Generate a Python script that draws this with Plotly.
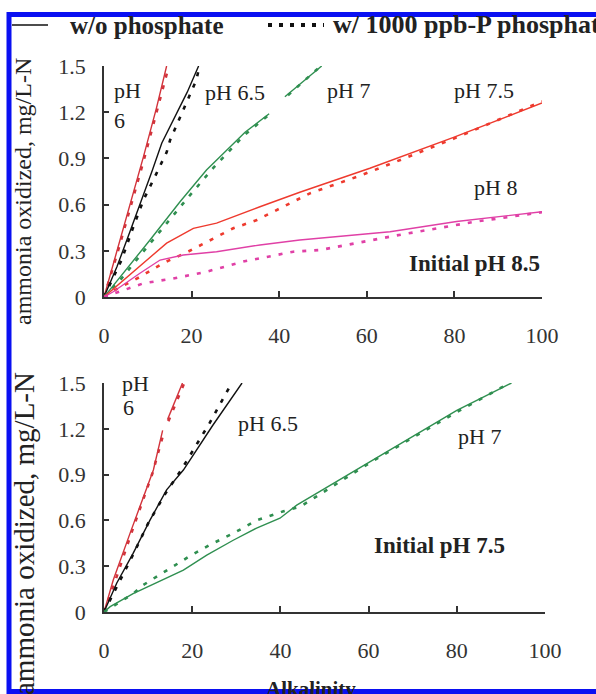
import plotly.graph_objects as go

W, H = 596, 694
def px(x): return x / W
def py(y): return 1 - y / H

FONT = "Liberation Serif"

# ---------------- data: top panel (Initial pH 8.5) ----------------
top_ph6_x = [0, 3, 6, 9, 12, 14.3]
top_ph6_y = [0, 0.30, 0.60, 0.91, 1.23, 1.50]
top_ph6_dot_x = [0, 3, 6, 9, 12, 14.8]
top_ph6_dot_y = [0, 0.28, 0.58, 0.88, 1.20, 1.50]

top_ph65_x = [0, 3, 6, 9, 11, 13.2, 16, 19, 21.6]
top_ph65_y = [0, 0.20, 0.43, 0.66, 0.82, 1.00, 1.16, 1.33, 1.50]
top_ph65_dot_x = [0, 4, 6.7, 9, 11.6, 13.2, 14.3, 15.1, 16.6, 19, 21.1, 21.8]
top_ph65_dot_y = [0, 0.24, 0.456, 0.63, 0.78, 0.87, 0.94, 1.02, 1.12, 1.27, 1.41, 1.50]

top_ph7_x = [0, 3.7, 10.5, 17.4, 23.4, 32.2, 37.7, None, 41.3, 49.7]
top_ph7_y = [0, 0.13, 0.37, 0.62, 0.825, 1.07, 1.19, None, 1.30, 1.50]
top_ph7_dot_x = [0, 3.7, 9.7, 14.3, 19.6, 25, 32, 37.5, None, 42, 49.5]
top_ph7_dot_y = [0, 0.11, 0.32, 0.48, 0.66, 0.84, 1.05, 1.18, None, 1.31, 1.50]

top_ph75_x = [0, 3.7, 9, 14.3, 20.4, 25.7, 35.6, 44.7, 60.7, 79.8, 100]
top_ph75_y = [0, 0.089, 0.22, 0.35, 0.446, 0.48, 0.586, 0.68, 0.836, 1.037, 1.26]
top_ph75_dot_x = [0, 2.5, 8.2, 13.5, 18.9, 24.2, 29.5, 34.9, 40.2, 47, 57.7, 65, 80, 100]
top_ph75_dot_y = [0, 0.045, 0.13, 0.22, 0.29, 0.37, 0.446, 0.50, 0.576, 0.673, 0.78, 0.86, 1.03, 1.27]

top_ph8_x = [0, 2.1, 8.2, 12.8, 18.1, 25.7, 35.6, 44.7, 65.3, 80.5, 100]
top_ph8_y = [0, 0.034, 0.154, 0.24, 0.273, 0.294, 0.338, 0.37, 0.424, 0.49, 0.554]
top_ph8_dot_x = [0, 5.9, 9, 15.8, 23.4, 31.8, 35.6, 43.2, 49.3, 66.8, 85, 100]
top_ph8_dot_y = [0, 0.056, 0.089, 0.12, 0.164, 0.23, 0.25, 0.294, 0.305, 0.40, 0.49, 0.55]

# ---------------- data: bottom panel (Initial pH 7.5) ----------------
bot_ph6_x = [0, 2.1, 5.9, 11.2, 13.3, None, 14.4, 17.8]
bot_ph6_y = [0, 0.21, 0.515, 0.93, 1.19, None, 1.26, 1.50]
bot_ph6_dot_x = [0, 2.5, 6, 11, 13.5, None, 14.6, 18.2]
bot_ph6_dot_y = [0, 0.20, 0.50, 0.91, 1.17, None, 1.25, 1.50]

bot_ph65_x = [0, 2.9, 6.6, 10.4, 14.2, 18, 24.6, 31.3]
bot_ph65_y = [0, 0.19, 0.384, 0.60, 0.80, 0.93, 1.22, 1.50]
bot_ph65_dot_x = [0, 3, 6.5, 10, 14, 17.5, 24, 28.4, 29.5]
bot_ph65_dot_y = [0, 0.17, 0.37, 0.58, 0.78, 0.93, 1.24, 1.47, 1.50]

bot_ph7_x = [0, 1.4, 6.6, 11.9, 18, 23.3, 29.3, 34.6, 39.9, 43.7, 61, 80, 92.4]
bot_ph7_y = [0, 0.035, 0.12, 0.19, 0.275, 0.373, 0.47, 0.55, 0.614, 0.70, 0.995, 1.32, 1.50]
bot_ph7_dot_x = [0, 3.6, 6.6, 8.9, 14.2, 19.1, 24, 29.3, 34.6, 40.7, 44.5, 61, 80, 92]
bot_ph7_dot_y = [0, 0.067, 0.12, 0.177, 0.275, 0.36, 0.44, 0.515, 0.60, 0.66, 0.69, 0.99, 1.31, 1.50]

x_ticks = [0, 20, 40, 60, 80, 100]
y_ticks = [0, 0.3, 0.6, 0.9, 1.2, 1.5]
y_ticktext = ["0", "0.3", "0.6", "0.9", "1.2", "1.5"]

C_RED6 = "#d2333b"
C_BLACK = "#111111"
C_GREEN = "#2f8f50"
C_RED75 = "#ee3a2e"
C_MAG = "#e040a6"
DOT = "4px,8px"

fig = go.Figure()

def add(x, y, color, dotted, xa, ya):
    fig.add_trace(go.Scatter(
        x=x, y=y, mode="lines", xaxis=xa, yaxis=ya, showlegend=False,
        connectgaps=False, hoverinfo="skip",
        line=dict(color=color, width=2.6 if dotted else 1.4,
                  dash=DOT if dotted else "solid")))

top = [
    (top_ph6_x, top_ph6_y, top_ph6_dot_x, top_ph6_dot_y, C_RED6),
    (top_ph65_x, top_ph65_y, top_ph65_dot_x, top_ph65_dot_y, C_BLACK),
    (top_ph7_x, top_ph7_y, top_ph7_dot_x, top_ph7_dot_y, C_GREEN),
    (top_ph75_x, top_ph75_y, top_ph75_dot_x, top_ph75_dot_y, C_RED75),
    (top_ph8_x, top_ph8_y, top_ph8_dot_x, top_ph8_dot_y, C_MAG),
]
for sx, sy, dx, dy, c in top:
    add(sx, sy, c, False, "x", "y")
    add(dx, dy, c, True, "x", "y")

bot = [
    (bot_ph6_x, bot_ph6_y, bot_ph6_dot_x, bot_ph6_dot_y, C_RED6),
    (bot_ph65_x, bot_ph65_y, bot_ph65_dot_x, bot_ph65_dot_y, C_BLACK),
    (bot_ph7_x, bot_ph7_y, bot_ph7_dot_x, bot_ph7_dot_y, C_GREEN),
]
for sx, sy, dx, dy, c in bot:
    add(sx, sy, c, False, "x2", "y2")
    add(dx, dy, c, True, "x2", "y2")

tickfont = dict(family=FONT, size=22, color="#333")
common_x = dict(range=[0, 100], tickvals=x_ticks, ticks="inside", ticklen=6,
                tickcolor="#333", tickwidth=1.5, showline=True, linecolor="#333",
                linewidth=1.6, showgrid=False, zeroline=False, tickfont=tickfont,
                ticklabelstandoff=18, fixedrange=True, automargin=False)
common_y = dict(range=[0, 1.5], tickvals=y_ticks, ticktext=y_ticktext, ticks="inside",
                ticklen=5, tickcolor="#333", tickwidth=1.5, showline=True,
                linecolor="#333", linewidth=1.6, showgrid=False, zeroline=False,
                tickfont=tickfont, ticklabelstandoff=12, fixedrange=True,
                automargin=False)

annotations = []
def txt(s, x, y, size=22, bold=False, xanchor="center", angle=0, color="#222"):
    annotations.append(dict(
        text=f"<b>{s}</b>" if bold else s, x=px(x), y=py(y), xref="paper", yref="paper",
        showarrow=False, xanchor=xanchor, yanchor="middle", textangle=angle,
        font=dict(family=FONT, size=size, color=color)))

# legend texts
txt("w/o phosphate", 68, 26, size=25, bold=True, xanchor="left")
txt("w/ 1000 ppb-P phosphate", 331, 24, size=26, bold=True, xanchor="left")

# top panel labels
txt("pH", 112, 91, xanchor="left")
txt("6", 112, 120, xanchor="left")
txt("pH 6.5", 203, 92, xanchor="left")
txt("pH 7", 325, 90, xanchor="left")
txt("pH 7.5", 452, 91, xanchor="left")
txt("pH 8", 472, 188, xanchor="left")
txt("Initial pH 8.5", 542, 263, size=23, bold=True, xanchor="right")

# bottom panel labels
txt("pH", 120, 383, xanchor="left")
txt("6", 121, 407, xanchor="left")
txt("pH 6.5", 236, 423, xanchor="left")
txt("pH 7", 456, 436, xanchor="left")
txt("Initial pH 7.5", 507, 545, size=23, bold=True, xanchor="right")

# axis titles
txt("ammonia oxidized, mg/L-N", 23, 192, size=24, angle=-90)
txt("ammonia oxidized, mg/L-N", 24, 534, size=29, angle=-90)
txt("Alkalinity", 311, 689, size=21, bold=True)

shapes = [
    # legend samples
    dict(type="line", xref="paper", yref="paper", x0=px(12), x1=px(48),
         y0=py(25), y1=py(25), line=dict(color="#111", width=1.6)),
    dict(type="line", xref="paper", yref="paper", x0=px(268), x1=px(324),
         y0=py(25), y1=py(25), line=dict(color="#111", width=4, dash="4px,7px")),
    # blue frame
    dict(type="rect", xref="paper", yref="paper", x0=px(9), x1=px(603),
         y0=py(691.5), y1=py(14.5), line=dict(color="#0a10f2", width=5),
         fillcolor="rgba(0,0,0,0)", layer="above"),
]

fig.update_layout(
    width=W, height=H, margin=dict(l=0, r=0, t=0, b=0, pad=0, autoexpand=False),
    paper_bgcolor="white", plot_bgcolor="white", showlegend=False,
    xaxis=dict(domain=[px(104), px(542)], anchor="y", **common_x),
    yaxis=dict(domain=[py(297), py(66)], anchor="x", **common_y),
    xaxis2=dict(domain=[px(104), px(545)], anchor="y2", **common_x),
    yaxis2=dict(domain=[py(612), py(383)], anchor="x2", **common_y),
    annotations=annotations, shapes=shapes,
)

fig.write_html("out.html", config={"displayModeBar": False})
